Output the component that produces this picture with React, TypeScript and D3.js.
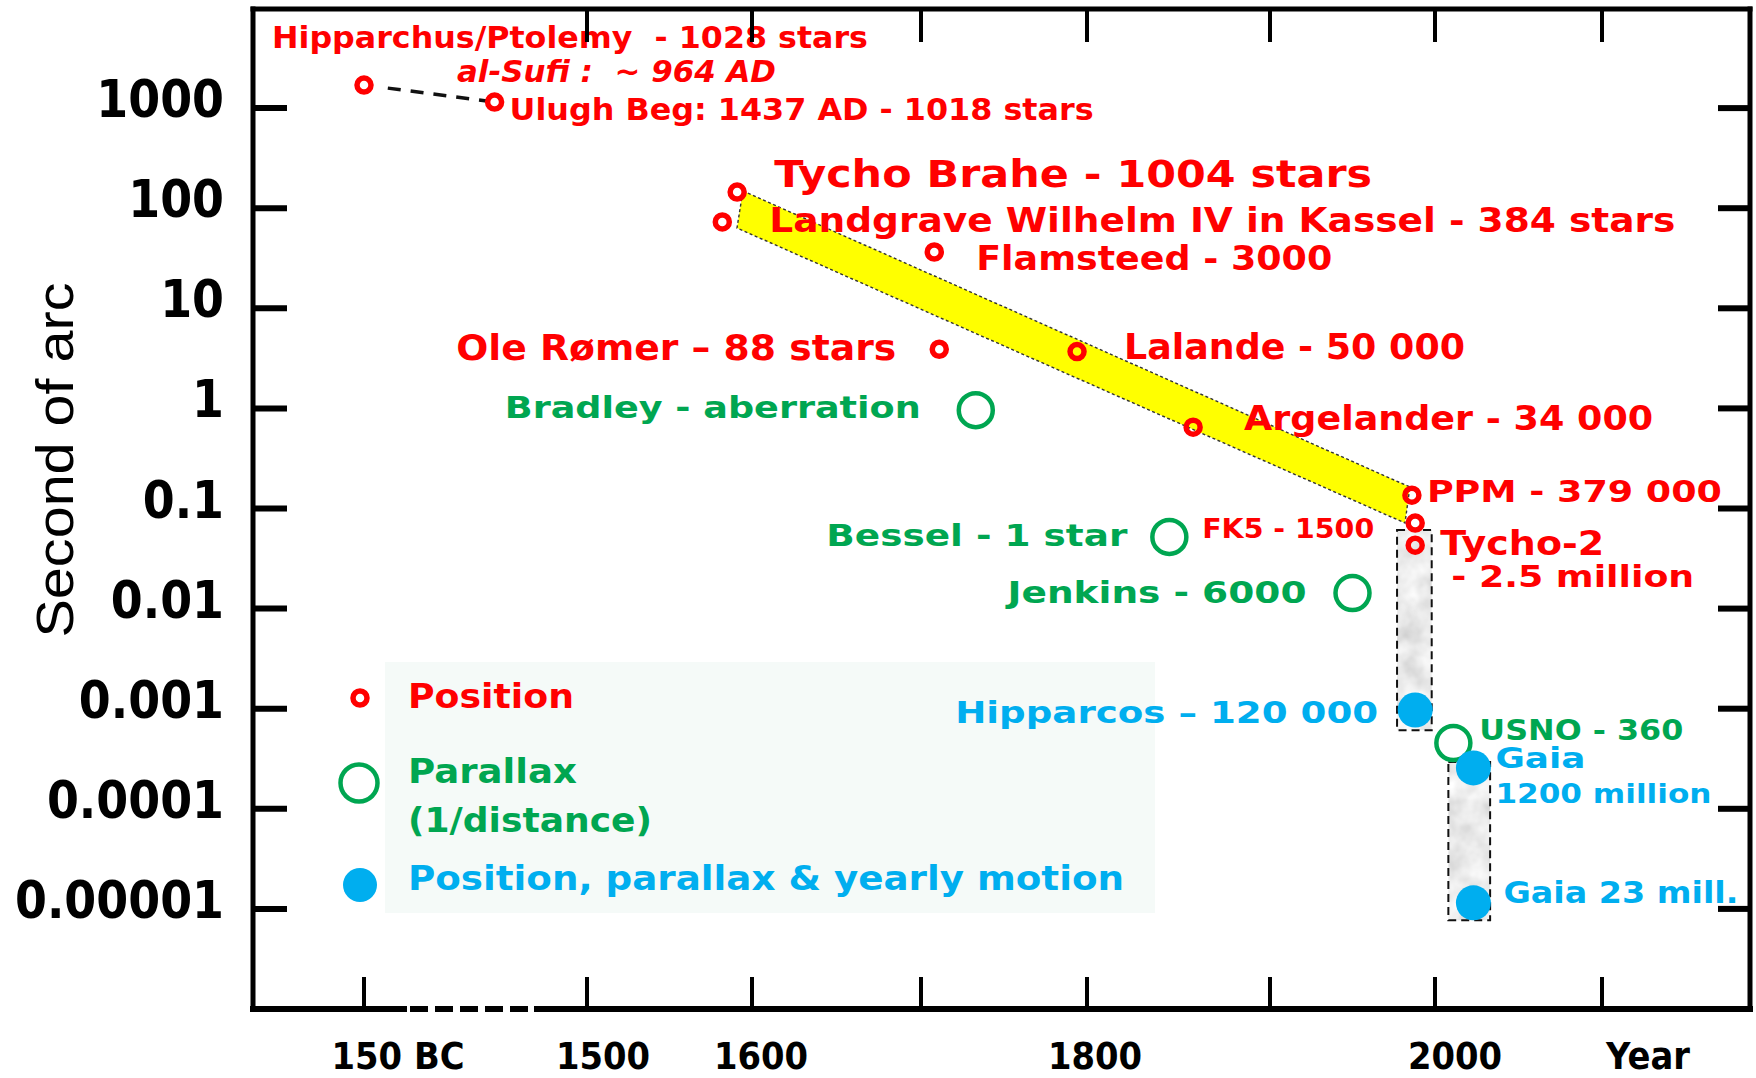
import React, { useEffect } from "react";
import * as d3 from "d3";

// red rings: position catalogues
const positionNames = ["Hipparchus", "Ulugh Beg", "Tycho Brahe", "Landgrave", "Flamsteed", "Romer", "Lalande", "Argelander", "PPM", "FK5", "Tycho-2"];
const positionYears = [-150, 1444, 1591, 1582, 1708, 1711, 1794, 1858, 1986, 1988, 1988];
const positionArcsec = [1700, 1150, 145, 73, 36.5, 3.9, 3.7, 0.65, 0.136, 0.0716, 0.043];

// green circles: parallax
const parallaxNames = ["Bradley", "Bessel", "Jenkins", "USNO"];
const parallaxYears = [1733, 1845, 1950, 2011];
const parallaxArcsec = [0.96, 0.052, 0.0143, 0.000454];

// blue dots: position, parallax & yearly motion
const astroNames = ["Hipparcos", "Gaia", "Gaia 23"];
const astroYears = [1988, 2023, 2023];
const astroArcsec = [0.00097, 0.000256, 0.0000115];

// yellow trend band (corners)
const bandYears = [1594.5, 1984.8, 1981.8, 1590.9];
const bandArcsec = [148.6, 0.164, 0.0716, 63.4];

// grey space-era bands
const greyYears = [[1977, 1998], [2008, 2033]];
const greyArcsec = [[0.061, 0.00061], [0.000294, 0.0000077]];

const yTicks = [1000, 100, 10, 1, 0.1, 0.01, 0.001, 0.0001, 0.00001];
const yTickLabels = ["1000", "100", "10", "1", "0.1", "0.01", "0.001", "0.0001", "0.00001"];
const xTopTicks = [1500, 1600, 1700, 1800, 1900, 2000, 2100];
const xBottomTicks = [-150, 1500, 1600, 1700, 1800, 1900, 2000, 2100];
const xTickLabels = ["150 BC", "1500", "1600", "1800", "2000", "Year"];
const xTickLabelYears = [-150, 1500, 1600, 1800, 2000, 2100];

const RED = "#ff0000";
const GREEN = "#00a651";
const BLUE = "#00aeef";

const W = 1756;
const H = 1078;
const L = 253, R = 1750, T = 9, B = 1009;

// broken time axis, the stretches between centuries are not equal on the original
const x = d3.scaleLinear()
  .domain([-150, 1400, 1500, 1600, 1700, 1800, 1900, 2000, 2100])
  .range([364, 422, 587, 752, 921, 1087, 1270, 1435, 1602]);
const y = d3.scaleLog().domain([1e-6, 1e4]).range([1009, 8]);

const xLabelShift = [34, 16, 9, 8, 20, 46];

interface Label {
  text: string; at: string; dx: number; dy: number; w: number;
  size: number; color: string; end?: boolean; italic?: boolean;
}

const labels: Label[] = [
  { text: "Hipparchus/Ptolemy  - 1028 stars", at: "Hipparchus", dx: -92, dy: -37, w: 596, size: 31, color: RED },
  { text: "al-Sufi :  ~ 964 AD", at: "Hipparchus", dx: 93, dy: -3, w: 319, size: 30, color: RED, italic: true },
  { text: "Ulugh Beg: 1437 AD - 1018 stars", at: "Ulugh Beg", dx: 15, dy: 18, w: 584, size: 31, color: RED },
  { text: "Tycho Brahe - 1004 stars", at: "Tycho Brahe", dx: 37, dy: -5, w: 598, size: 37, color: RED },
  { text: "Landgrave Wilhelm IV in Kassel - 384 stars", at: "Landgrave", dx: 47, dy: 10, w: 906, size: 34, color: RED },
  { text: "Flamsteed - 3000", at: "Flamsteed", dx: 42, dy: 18, w: 356, size: 34, color: RED },
  { text: "Ole Rømer – 88 stars", at: "Romer", dx: -43, dy: 11, w: 440, size: 36, color: RED, end: true },
  { text: "Lalande - 50 000", at: "Lalande", dx: 47, dy: 7, w: 341, size: 35, color: RED },
  { text: "Argelander - 34 000", at: "Argelander", dx: 51, dy: 3, w: 409, size: 33, color: RED },
  { text: "PPM - 379 000", at: "PPM", dx: 15, dy: 7, w: 295, size: 31, color: RED },
  { text: "FK5 - 1500", at: "FK5", dx: -41, dy: 15, w: 172, size: 27, color: RED, end: true },
  { text: "Tycho-2", at: "Tycho-2", dx: 25, dy: 10, w: 164, size: 33, color: RED },
  { text: "- 2.5 million", at: "Tycho-2", dx: 36, dy: 42, w: 243, size: 31, color: RED },
  { text: "Bradley - aberration", at: "Bradley", dx: -55, dy: 8, w: 416, size: 31, color: GREEN, end: true },
  { text: "Bessel - 1 star", at: "Bessel", dx: -42, dy: 9, w: 301, size: 31, color: GREEN, end: true },
  { text: "Jenkins - 6000", at: "Jenkins", dx: -46, dy: 10, w: 299, size: 30, color: GREEN, end: true },
  { text: "USNO - 360", at: "USNO", dx: 26, dy: -3, w: 204, size: 28, color: GREEN },
  { text: "Hipparcos – 120 000", at: "Hipparcos", dx: -37, dy: 13, w: 423, size: 31, color: BLUE, end: true },
  { text: "Gaia", at: "Gaia", dx: 22, dy: 0, w: 90, size: 29, color: BLUE },
  { text: "1200 million", at: "Gaia", dx: 22, dy: 35, w: 216, size: 26, color: BLUE },
  { text: "Gaia 23 mill.", at: "Gaia 23", dx: 30, dy: 0, w: 235, size: 31, color: BLUE },
];

const FONT = "'DejaVu Sans', Verdana, sans-serif";

export default function App() {
  useEffect(() => {
    document.body.style.margin = "0";
  }, []);

  const pos = positionNames.map((name, i) => ({ name, year: positionYears[i], v: positionArcsec[i] }));
  const par = parallaxNames.map((name, i) => ({ name, year: parallaxYears[i], v: parallaxArcsec[i] }));
  const ast = astroNames.map((name, i) => ({ name, year: astroYears[i], v: astroArcsec[i] }));

  const where = new Map<string, [number, number]>();
  [...pos, ...par, ...ast].forEach(d => where.set(d.name, [x(d.year), y(d.v)]));

  const bandPath = d3.line<[number, number]>()
    .x(d => x(d[0]))
    .y(d => y(d[1]))(bandYears.map((yr, i) => [yr, bandArcsec[i]] as [number, number])) + "Z";

  // dashed link between the two oldest catalogues
  const [hx, hy] = where.get("Hipparchus")!;
  const [ux, uy] = where.get("Ulugh Beg")!;
  const len = Math.hypot(ux - hx, uy - hy);
  const ex = (ux - hx) / len, ey = (uy - hy) / len;

  const breakStart = x(-150) + 40;
  const breakEnd = x(1500) - 50;

  return (
    <svg width={W} height={H} style={{ position: "absolute", left: 0, top: 0, display: "block", background: "#fff" }}>
      <defs>
        <filter id="marble" x="0" y="0" width="1" height="1">
          <feTurbulence type="fractalNoise" baseFrequency="0.045" numOctaves={3} seed={4} result="n" />
          <feColorMatrix in="n" type="matrix"
            values="0.45 0 0 0 0.6  0.45 0 0 0 0.6  0.45 0 0 0 0.6  0 0 0 0 1" result="g" />
          <feComposite in="g" in2="SourceGraphic" operator="in" />
        </filter>
      </defs>

      {/* legend panel */}
      <rect x={385} y={662} width={770} height={251} fill="#f5faf8" />

      {/* yellow band */}
      <path d={bandPath} fill="#ffff00" stroke="#333" strokeWidth={1.4} strokeDasharray="3,2.5" />

      {/* grey bands */}
      {greyYears.map((yr, i) => {
        const x0 = x(yr[0]), x1 = x(yr[1]);
        const y0 = y(greyArcsec[i][0]), y1 = y(greyArcsec[i][1]);
        return (
          <g key={i}>
            <rect x={x0} y={y0} width={x1 - x0} height={y1 - y0} fill="#d6d6d6" filter="url(#marble)" />
            <rect x={x0} y={y0} width={x1 - x0} height={y1 - y0} fill="none" stroke="#111" strokeWidth={2} strokeDasharray="8,5" />
          </g>
        );
      })}

      <line x1={hx + ex * 24} y1={hy + ey * 24} x2={ux - ex * 8} y2={uy - ey * 8}
        stroke="#111" strokeWidth={3.5} strokeDasharray="13,10" />

      {/* markers */}
      {pos.map(d => (
        <circle key={d.name} cx={x(d.year)} cy={y(d.v)} r={7} fill="none" stroke={RED} strokeWidth={5.5} />
      ))}
      {par.map(d => (
        <circle key={d.name} cx={x(d.year)} cy={y(d.v)} r={17} fill="none" stroke={GREEN} strokeWidth={4.5} />
      ))}
      {ast.map(d => (
        <circle key={d.name} cx={x(d.year)} cy={y(d.v)} r={17.5} fill={BLUE} />
      ))}

      {/* annotations */}
      <g fontFamily={FONT} fontWeight="bold">
        {labels.map((l, i) => {
          const [px, py] = where.get(l.at)!;
          const x0 = l.end ? px + l.dx - l.w : px + l.dx;
          return (
            <text key={i} x={x0} y={py + l.dy} fill={l.color} fontSize={l.size}
              fontStyle={l.italic ? "italic" : "normal"}
              textLength={l.w} lengthAdjust="spacingAndGlyphs" style={{ whiteSpace: "pre" }}>
              {l.text}
            </text>
          );
        })}
      </g>

      {/* legend */}
      <circle cx={360} cy={698} r={7} fill="none" stroke={RED} strokeWidth={5.5} />
      <circle cx={359} cy={783} r={18.5} fill="none" stroke={GREEN} strokeWidth={4.5} />
      <circle cx={360} cy={885} r={17} fill={BLUE} />
      <g fontFamily={FONT} fontWeight="bold">
        <text x={408} y={708} fill={RED} fontSize={34} textLength={166} lengthAdjust="spacingAndGlyphs">Position</text>
        <text x={408} y={783} fill={GREEN} fontSize={34} textLength={169} lengthAdjust="spacingAndGlyphs">Parallax</text>
        <text x={408} y={832} fill={GREEN} fontSize={33} textLength={244} lengthAdjust="spacingAndGlyphs">(1/distance)</text>
        <text x={408} y={890} fill={BLUE} fontSize={34} textLength={716} lengthAdjust="spacingAndGlyphs">Position, parallax &amp; yearly motion</text>
      </g>

      {/* frame and ticks */}
      <g stroke="#000" strokeLinecap="square">
        <line x1={L} y1={T} x2={R} y2={T} strokeWidth={5} />
        <line x1={L} y1={T} x2={L} y2={B} strokeWidth={5} />
        <line x1={R} y1={T} x2={R} y2={B} strokeWidth={5} />
        <line x1={L} y1={B} x2={breakStart} y2={B} strokeWidth={6} />
        <line x1={breakStart + 6} y1={B} x2={breakEnd} y2={B} strokeWidth={6} strokeLinecap="butt" strokeDasharray="18,7" />
        <line x1={breakEnd} y1={B} x2={R} y2={B} strokeWidth={6} />
        {yTicks.map(v => (
          <g key={v}>
            <line x1={L} y1={y(v)} x2={L + 34} y2={y(v)} strokeWidth={6} strokeLinecap="butt" />
            <line x1={R - 32} y1={y(v)} x2={R} y2={y(v)} strokeWidth={6} strokeLinecap="butt" />
          </g>
        ))}
        {xTopTicks.map(t => (
          <line key={t} x1={x(t)} y1={T} x2={x(t)} y2={T + 33} strokeWidth={4} strokeLinecap="butt" />
        ))}
        {xBottomTicks.map(t => (
          <line key={t} x1={x(t)} y1={B} x2={x(t)} y2={B - 32} strokeWidth={4} strokeLinecap="butt" />
        ))}
      </g>

      <g fontFamily={FONT} fontWeight="bold" fill="#000">
        {yTicks.map((v, i) => (
          <text key={v} transform={`translate(224,${y(v) + 9}) scale(0.9,1)`} textAnchor="end" fontSize={51}>
            {yTickLabels[i]}
          </text>
        ))}
        {xTickLabels.map((s, i) => (
          <text key={s} transform={`translate(${x(xTickLabelYears[i]) + xLabelShift[i]},1069) scale(0.89,1)`}
            textAnchor="middle" fontSize={38}>
            {s}
          </text>
        ))}
      </g>

      <text transform="translate(73,460) rotate(-90)" textAnchor="middle"
        fontFamily="'Liberation Sans', Arial, sans-serif" fontSize={52}
        textLength={355} lengthAdjust="spacingAndGlyphs" fill="#000">
        Second of arc
      </text>
    </svg>
  );
}
